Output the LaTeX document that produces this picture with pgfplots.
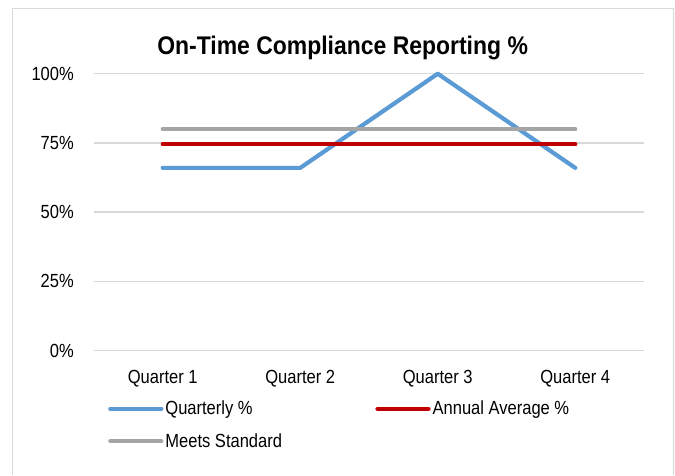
\documentclass[border=0pt]{standalone}
\usepackage{fontspec}
\setmainfont{Liberation Sans}[FakeStretch=0.87]
\newfontfamily\titlefont{Liberation Sans}[FakeStretch=0.9]
\usepackage{pgfplots}
\pgfplotsset{compat=1.18}
\definecolor{qblue}{HTML}{5B9BD5}
\definecolor{avgred}{HTML}{C00000}
\definecolor{stdgray}{HTML}{A5A5A5}
\definecolor{gridgray}{HTML}{D9D9D9}
\begin{document}
\begin{tikzpicture}
\useasboundingbox (0pt,0pt) rectangle (675pt,-475pt);
\fill[white] (0pt,0pt) rectangle (675pt,-475pt);
\draw[gridgray, line width=1pt] (12.5pt,-475pt) -- (12.5pt,-8.5pt) -- (673pt,-8.5pt) -- (673pt,-475pt);
\begin{axis}[
  at={(94pt,-350.7pt)}, anchor=south west,
  scale only axis, width=550pt, height=277pt,
  xmin=-0.5, xmax=3.5, ymin=0, ymax=100,
  clip=false,
  axis line style={draw=none},
  major tick length=0pt,
  xtick={0,1,2,3}, xticklabels={Quarter 1,Quarter 2,Quarter 3,Quarter 4},
  ytick={0,25,50,75,100}, yticklabels={0\%,25\%,50\%,75\%,100\%},
  ymajorgrids, grid style={gridgray, line width=1.5pt},
  tick label style={font=\fontsize{19}{22}\selectfont},
  yticklabel style={anchor=east, inner sep=0pt, xshift=-20pt},
  xticklabel style={anchor=base, inner sep=0pt, yshift=-33pt},
  title={\titlefont\bfseries\fontsize{25.5}{30}\selectfont On-Time Compliance Reporting \%},
  title style={anchor=base, at={(0.452,1.0494)}, inner sep=0pt},
  legend columns=2,
  legend cell align=left,
  legend style={draw=none, fill=none, inner sep=0pt, font=\fontsize{19}{22}\selectfont,
    at={(0.02545,-0.1743)}, anchor=north west, nodes={inner sep=2pt}, /tikz/row sep=13pt},
  legend image code/.code={\draw[#1, line cap=round] (0pt,0pt) -- (51pt,0pt);},
]
\addplot[qblue, line width=4.2pt, line cap=round, line join=round] coordinates {(0,66) (1,66) (2,100) (3,66)};
\addlegendentry{\makebox[208pt][l]{Quarterly \%}}
\addplot[avgred, line width=4.2pt, line cap=round, line join=round] coordinates {(0,74.5) (1,74.5) (2,74.5) (3,74.5)};
\addlegendentry{Annual Average \%}
\addplot[stdgray, line width=4.2pt, line cap=round, line join=round] coordinates {(0,80) (1,80) (2,80) (3,80)};
\addlegendentry{Meets Standard}
\end{axis}
\end{tikzpicture}
\end{document}
